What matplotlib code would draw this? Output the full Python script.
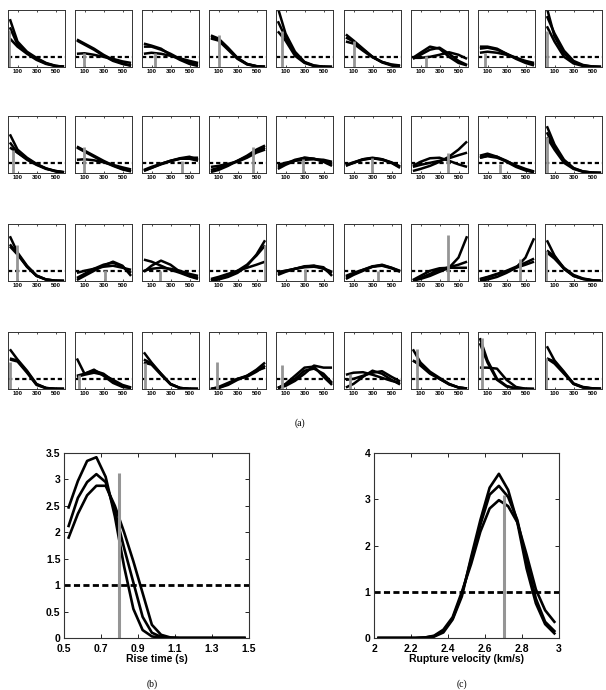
import matplotlib
matplotlib.use("Agg")
import matplotlib.pyplot as plt
from matplotlib.ticker import StrMethodFormatter

# --- DATA ---
# small panels: density estimates at these depths
x_small = [20, 100, 200, 300, 400, 500, 590]

row1_curves = [
    [[4.7, 2.5, 1.5, 0.9, 0.4, 0.12, 0.03], [3.9, 2.2, 1.4, 0.8, 0.35, 0.1, 0.03], [2.8, 2.0, 1.3, 0.7, 0.3, 0.1, 0.03]],
    [[2.7, 2.3, 1.8, 1.2, 0.7, 0.35, 0.15], [2.6, 2.2, 1.7, 1.1, 0.6, 0.3, 0.12], [1.3, 1.35, 1.2, 1.0, 0.8, 0.55, 0.4]],
    [[2.3, 2.1, 1.8, 1.2, 0.7, 0.3, 0.1], [2.0, 2.0, 1.7, 1.3, 0.8, 0.45, 0.3], [1.3, 1.4, 1.3, 1.1, 0.85, 0.6, 0.4]],
    [[3.1, 2.8, 1.9, 0.9, 0.3, 0.08, 0.02], [2.9, 2.7, 1.8, 0.85, 0.3, 0.08, 0.02], [2.8, 2.6, 1.7, 0.8, 0.25, 0.07, 0.02]],
    [[5.8, 3.3, 1.5, 0.5, 0.15, 0.03, 0.01], [4.5, 2.9, 1.3, 0.45, 0.12, 0.03, 0.01], [3.5, 2.6, 1.1, 0.4, 0.1, 0.02, 0.01]],
    [[3.2, 2.6, 1.8, 1.0, 0.45, 0.15, 0.05], [2.9, 2.5, 1.7, 1.0, 0.5, 0.2, 0.1], [2.5, 2.3, 1.6, 0.95, 0.5, 0.25, 0.15]],
    [[0.9, 1.4, 2.0, 1.8, 1.0, 0.4, 0.15], [0.8, 1.2, 1.7, 1.9, 1.3, 0.6, 0.2], [0.9, 0.9, 1.0, 1.2, 1.45, 1.2, 0.8]],
    [[2.0, 2.0, 1.8, 1.3, 0.8, 0.4, 0.15], [1.8, 1.9, 1.7, 1.3, 0.9, 0.5, 0.25], [1.4, 1.5, 1.4, 1.2, 0.9, 0.6, 0.4]],
    [[5.8, 3.0, 1.3, 0.5, 0.15, 0.04, 0.01], [5.0, 3.3, 1.6, 0.6, 0.2, 0.05, 0.01], [4.0, 2.5, 1.0, 0.35, 0.1, 0.03, 0.01]],
]
row2_curves = [
    [[3.8, 2.3, 1.5, 0.9, 0.45, 0.15, 0.05], [3.0, 2.0, 1.4, 0.85, 0.45, 0.2, 0.08], [2.5, 2.0, 1.3, 0.8, 0.4, 0.2, 0.08]],
    [[2.6, 2.2, 1.7, 1.2, 0.75, 0.4, 0.2], [2.5, 2.1, 1.6, 1.1, 0.7, 0.35, 0.15], [1.3, 1.35, 1.25, 1.05, 0.8, 0.55, 0.35]],
    [[0.2, 0.5, 0.9, 1.2, 1.45, 1.6, 1.3], [0.25, 0.5, 0.85, 1.15, 1.4, 1.5, 1.5], [0.3, 0.6, 0.9, 1.2, 1.4, 1.4, 1.2]],
    [[0.1, 0.3, 0.7, 1.2, 1.7, 2.3, 2.7], [0.3, 0.5, 0.8, 1.2, 1.6, 2.1, 2.5], [0.6, 0.7, 0.9, 1.1, 1.5, 2.0, 2.3]],
    [[0.4, 0.8, 1.2, 1.5, 1.4, 1.1, 0.7], [0.6, 0.9, 1.3, 1.5, 1.4, 1.2, 0.9], [0.8, 1.0, 1.2, 1.3, 1.35, 1.3, 1.1]],
    [[0.7, 1.0, 1.35, 1.5, 1.35, 1.0, 0.5], [0.8, 1.05, 1.35, 1.45, 1.3, 1.0, 0.6], [0.75, 1.0, 1.3, 1.45, 1.35, 1.05, 0.65]],
    [[0.2, 0.4, 0.7, 1.1, 1.6, 2.3, 3.1], [0.6, 0.8, 1.0, 1.2, 1.45, 1.75, 2.0], [0.7, 1.1, 1.45, 1.5, 1.2, 0.85, 0.6]],
    [[1.7, 1.9, 1.6, 1.1, 0.6, 0.25, 0.08], [1.5, 1.7, 1.6, 1.2, 0.7, 0.3, 0.1], [1.5, 1.65, 1.5, 1.15, 0.75, 0.4, 0.15]],
    [[4.6, 2.8, 1.3, 0.5, 0.15, 0.04, 0.01], [4.0, 2.5, 1.2, 0.45, 0.15, 0.04, 0.01], [3.5, 2.3, 1.0, 0.4, 0.12, 0.03, 0.01]],
]
row3_curves = [
    [[4.4, 2.8, 1.5, 0.55, 0.15, 0.03, 0.01], [3.6, 2.7, 1.4, 0.5, 0.15, 0.03, 0.01], [3.4, 2.6, 1.4, 0.5, 0.14, 0.03, 0.01]],
    [[0.1, 0.5, 1.0, 1.5, 1.9, 1.5, 0.5], [0.3, 0.7, 1.2, 1.6, 1.8, 1.4, 0.8], [0.8, 1.0, 1.2, 1.4, 1.5, 1.3, 1.1]],
    [[2.1, 1.9, 1.5, 1.1, 0.8, 0.45, 0.2], [0.9, 1.5, 2.0, 1.6, 0.9, 0.5, 0.3], [1.0, 1.2, 1.3, 1.2, 1.0, 0.7, 0.5]],
    [[0.05, 0.15, 0.4, 0.8, 1.5, 2.6, 4.0], [0.05, 0.2, 0.5, 1.0, 1.6, 2.5, 3.5], [0.2, 0.4, 0.7, 1.0, 1.3, 1.6, 1.9]],
    [[0.6, 0.9, 1.2, 1.45, 1.5, 1.2, 0.8], [0.9, 1.0, 1.2, 1.35, 1.4, 1.25, 0.9], [0.8, 1.0, 1.2, 1.4, 1.5, 1.35, 0.5]],
    [[0.2, 0.6, 1.0, 1.4, 1.6, 1.3, 1.0], [0.4, 0.7, 1.1, 1.45, 1.55, 1.3, 0.95], [0.5, 0.8, 1.1, 1.4, 1.5, 1.25, 0.9]],
    [[0.05, 0.2, 0.5, 0.9, 1.3, 2.3, 4.4], [0.1, 0.5, 1.0, 1.25, 1.3, 1.3, 1.3], [0.05, 0.3, 0.7, 1.1, 1.35, 1.6, 1.9]],
    [[0.05, 0.15, 0.4, 0.8, 1.3, 2.3, 4.2], [0.2, 0.4, 0.7, 1.0, 1.4, 1.8, 2.2], [0.15, 0.35, 0.65, 0.95, 1.3, 1.6, 1.9]],
    [[4.0, 2.5, 1.2, 0.5, 0.2, 0.05, 0.01], [3.0, 2.4, 1.3, 0.6, 0.25, 0.08, 0.02], [2.8, 2.2, 1.2, 0.5, 0.2, 0.06, 0.02]],
]
row4_curves = [
    [[3.9, 2.9, 1.8, 0.5, 0.1, 0.02, 0.01], [3.0, 2.8, 1.7, 0.45, 0.1, 0.02, 0.01], [2.9, 2.7, 1.6, 0.4, 0.08, 0.02, 0.01]],
    [[3.0, 1.5, 1.9, 1.3, 0.6, 0.2, 0.1], [1.3, 1.5, 1.8, 1.5, 0.8, 0.3, 0.1], [1.2, 1.4, 1.6, 1.4, 0.9, 0.4, 0.15]],
    [[3.6, 2.6, 1.5, 0.5, 0.1, 0.02, 0.01], [2.9, 2.5, 1.5, 0.5, 0.1, 0.02, 0.01], [2.6, 2.4, 1.4, 0.45, 0.1, 0.02, 0.01]],
    [[0.0, 0.1, 0.5, 1.0, 1.3, 1.9, 2.6], [0.0, 0.2, 0.6, 1.0, 1.2, 1.7, 2.3], [0.0, 0.1, 0.4, 0.9, 1.3, 1.8, 2.1]],
    [[0.1, 0.5, 1.3, 2.1, 2.2, 1.2, 0.4], [0.1, 0.3, 0.8, 1.5, 2.3, 2.1, 2.1], [0.1, 0.4, 1.0, 1.8, 2.0, 1.5, 0.6]],
    [[0.15, 0.5, 1.2, 1.8, 1.5, 0.9, 0.45], [1.4, 1.6, 1.65, 1.4, 1.1, 0.8, 0.6], [0.9, 1.0, 1.3, 1.6, 1.75, 1.2, 0.75]],
    [[3.9, 2.6, 1.7, 1.1, 0.5, 0.15, 0.04], [2.8, 2.4, 1.6, 1.0, 0.5, 0.15, 0.05], [2.8, 2.3, 1.5, 1.0, 0.45, 0.15, 0.05]],
    [[5.0, 2.8, 1.0, 0.3, 0.05, 0.01, 0.0], [4.5, 2.6, 0.9, 0.25, 0.05, 0.01, 0.0], [2.1, 2.1, 2.0, 0.9, 0.2, 0.03, 0.0]],
    [[4.2, 2.8, 1.7, 0.5, 0.15, 0.05, 0.02], [3.0, 2.7, 1.6, 0.55, 0.2, 0.07, 0.02], [3.0, 2.5, 1.5, 0.5, 0.15, 0.05, 0.02]],
]

# true value (gray bar) position and drawn height per panel
true_pos = [10, 90, 135, 105, 60, 105, 155, 78, 17,
            50, 98, 425, 465, 280, 290, 385, 228, 17,
            91, 320, 193, 590, 305, 358, 386, 446, 15,
            20, 38, 35, 84, 60, 63, 60, 46, 10]
bar_height = [3.6, 1.4, 1.35, 3.1, 3.5, 2.6, 1.1, 1.35, 3.5,
              2.3, 2.6, 1.15, 2.6, 1.4, 1.45, 2.0, 0.9, 3.5,
              3.5, 1.1, 0.95, 3.5, 1.2, 1.0, 4.5, 2.2, 2.9,
              2.7, 1.4, 2.6, 2.7, 2.4, 1.5, 3.9, 5.0, 3.0]

# (b) rise time
rise_x = [0.525, 0.575, 0.625, 0.675, 0.725, 0.775, 0.825, 0.875, 0.925, 0.975,
          1.025, 1.075, 1.125, 1.175, 1.225, 1.275, 1.325, 1.375, 1.425, 1.475]
rise_a = [2.47, 2.97, 3.35, 3.42, 3.05, 2.3, 1.35, 0.55, 0.15, 0.03, 0.005, 0, 0, 0, 0, 0, 0, 0, 0, 0]
rise_b = [2.12, 2.65, 2.95, 3.1, 2.95, 2.4, 1.7, 1.05, 0.4, 0.1, 0.02, 0.004, 0, 0, 0, 0, 0, 0, 0, 0]
rise_c = [1.9, 2.35, 2.7, 2.88, 2.88, 2.5, 2.0, 1.45, 0.85, 0.25, 0.06, 0.01, 0, 0, 0, 0, 0, 0, 0, 0]
rise_true = 0.8
rise_bar = 3.13

# (c) rupture velocity
vel_x = [2.025, 2.075, 2.125, 2.175, 2.225, 2.275, 2.325, 2.375, 2.425, 2.475,
         2.525, 2.575, 2.625, 2.675, 2.725, 2.775, 2.825, 2.875, 2.925, 2.975]
vel_a = [0, 0, 0, 0, 0, 0.005, 0.03, 0.12, 0.4, 0.9, 1.75, 2.55, 3.25, 3.55, 3.2, 2.5, 1.5, 0.75, 0.3, 0.1]
vel_b = [0, 0, 0, 0, 0, 0.01, 0.04, 0.15, 0.42, 0.95, 1.7, 2.45, 3.1, 3.29, 3.05, 2.55, 1.65, 0.85, 0.35, 0.15]
vel_c = [0, 0, 0, 0, 0, 0.01, 0.05, 0.18, 0.45, 1.0, 1.6, 2.3, 2.8, 2.98, 2.85, 2.5, 1.8, 1.05, 0.6, 0.35]
vel_true = 2.7
vel_bar = 3.1

# --- STYLE ---
W, H = 606, 690
GRAY = '#959595'
plt.rcParams['font.family'] = ['Liberation Sans', 'DejaVu Sans']
plt.rcParams['font.weight'] = 'bold'

fig = plt.figure(figsize=(W / 100, H / 100), dpi=100)


def px_axes(left, top, width, height):
    return fig.add_axes([left / W, 1 - (top + height) / H, width / W, height / H])


def box_style(ax, lw=0.8):
    for s in ax.spines.values():
        s.set_linewidth(lw)
        s.set_color('#333333')
    ax.tick_params(direction='in', top=True, right=True)


# --- SMALL PANELS ---
all_rows = [row1_curves, row2_curves, row3_curves, row4_curves]
col_left = [8, 75, 142, 209, 276, 344, 411, 478, 545]
row_top = [10, 116, 224, 332]

for r, rows in enumerate(all_rows):
    for c, panel in enumerate(rows):
        k = r * 9 + c
        ax = px_axes(col_left[c], row_top[r], 57, 57)
        for ys in panel:
            ax.plot(x_small, ys, color='black', lw=1.8, solid_capstyle='butt')
        ax.axhline(1, color='black', lw=1.6, ls=(0, (1.9, 1.3)))
        ax.vlines(true_pos[k], 0, bar_height[k], color=GRAY, lw=2)
        ax.set_xlim(0, 600)
        ax.set_ylim(0, 5.6)
        ax.set_xticks([100, 300, 500])
        ax.set_yticks([])
        box_style(ax, 0.7)
        ax.tick_params(axis='x', length=1.5, width=0.5, labelsize=4.2, pad=1.5)
        for lab in ax.get_xticklabels():
            lab.set_fontweight('bold')

fig.text(300 / W, 1 - 423 / H, '(a)', family='Liberation Serif', fontweight='normal',
         fontsize=7, ha='center', va='center')

# --- (b) RISE TIME ---
axb = px_axes(64, 453, 185, 185)
for ys in (rise_a, rise_b, rise_c):
    axb.plot(rise_x, ys, color='black', lw=1.9)
axb.axhline(1, color='black', lw=2, ls=(0, (2.2, 1.2)))
axb.vlines(rise_true, 0, rise_bar, color=GRAY, lw=2.2)
axb.set_xlim(0.5, 1.5)
axb.set_ylim(0, 3.5)
axb.set_xticks([0.5, 0.7, 0.9, 1.1, 1.3, 1.5])
axb.set_yticks([0, 0.5, 1, 1.5, 2, 2.5, 3, 3.5])
axb.xaxis.set_major_formatter(StrMethodFormatter('{x:g}'))
axb.yaxis.set_major_formatter(StrMethodFormatter('{x:g}'))
box_style(axb)
axb.tick_params(length=3, width=0.6, labelsize=7.5, pad=2.5)
axb.tick_params(axis='x', pad=4.5)
axb.set_xlabel('Rise time (s)', fontsize=7.5, fontweight='bold', labelpad=0)

# --- (c) RUPTURE VELOCITY ---
axc = px_axes(374, 453, 185, 185)
for ys in (vel_a, vel_b, vel_c):
    axc.plot(vel_x, ys, color='black', lw=1.9)
axc.axhline(1, color='black', lw=2, ls=(0, (2.2, 1.2)))
axc.vlines(vel_true, 0, vel_bar, color=GRAY, lw=2.2)
axc.set_xlim(2, 3)
axc.set_ylim(0, 4)
axc.set_xticks([2, 2.2, 2.4, 2.6, 2.8, 3])
axc.set_yticks([0, 1, 2, 3, 4])
axc.xaxis.set_major_formatter(StrMethodFormatter('{x:g}'))
axc.yaxis.set_major_formatter(StrMethodFormatter('{x:g}'))
box_style(axc)
axc.tick_params(length=3, width=0.6, labelsize=7.5, pad=2.5)
axc.tick_params(axis='x', pad=4.5)
axc.set_xlabel('Rupture velocity (km/s)', fontsize=7.5, fontweight='bold', labelpad=0)

for ax in (axb, axc):
    for lab in ax.get_xticklabels() + ax.get_yticklabels():
        lab.set_fontweight('bold')

fig.text(152 / W, 1 - 684 / H, '(b)', family='Liberation Serif', fontweight='normal',
         fontsize=7, ha='center', va='center')
fig.text(462 / W, 1 - 684 / H, '(c)', family='Liberation Serif', fontweight='normal',
         fontsize=7, ha='center', va='center')

fig.savefig('out.png', dpi=100)
